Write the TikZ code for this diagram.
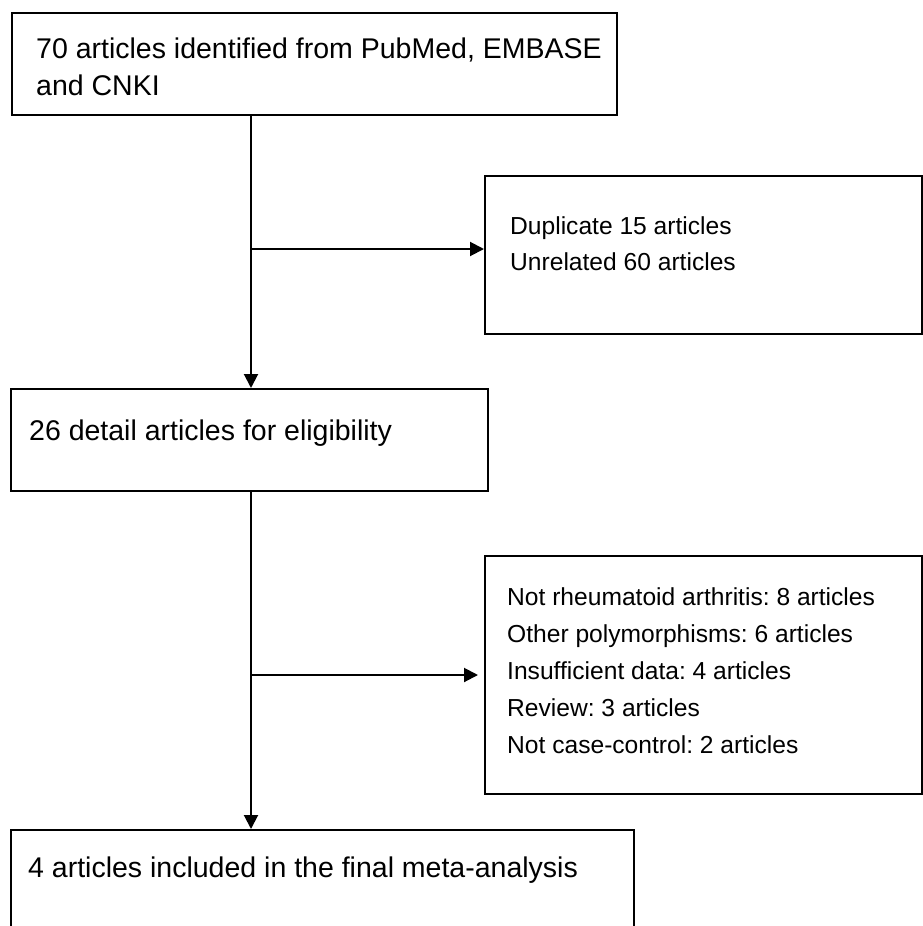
\documentclass[tikz,border=0pt]{standalone}
\usepackage{fontspec}
\setmainfont{Liberation Sans}
\usetikzlibrary{arrows.meta}
\frenchspacing
\begin{document}
\begin{tikzpicture}[x=1pt,y=1pt,
  box/.style={draw, line width=2pt, rectangle, inner sep=0pt, anchor=north west},
  bigtxt/.style={anchor=base west, inner sep=0pt, font=\fontsize{28.5}{37}\selectfont},
  smalltxt/.style={anchor=base west, inner sep=0pt, font=\fontsize{24.6}{36}\selectfont},
  arr/.style={line width=2pt, -{Triangle[length=14pt,width=14pt]}}]
\useasboundingbox (0,0) rectangle (923,-926);
\fill[white] (0,0) rectangle (923,-926);
% boxes
\node[box, minimum width=605pt, minimum height=102pt] (b1) at (11,-12) {};
\node[box, minimum width=437pt, minimum height=158pt] (r1) at (484,-175) {};
\node[box, minimum width=477pt, minimum height=102pt] (b2) at (10,-388) {};
\node[box, minimum width=437pt, minimum height=238pt] (r2) at (484,-555) {};
\node[box, minimum width=623pt, minimum height=130pt] (b3) at (10,-829) {};
% texts
\node[bigtxt] (t1a) at (36,-58) {70 articles identified from PubMed, EMBASE};
\node[bigtxt] (t1b) at (36,-95) {and CNKI};
\node[smalltxt] (r1a) at (510,-234) {Duplicate 15 articles};
\node[smalltxt] (r1b) at (510,-270) {Unrelated 60 articles};
\node[bigtxt] (t2) at (29,-440) {26 detail articles for eligibility};
\node[smalltxt] (r2a) at (507,-605) {Not rheumatoid arthritis: 8 articles};
\node[smalltxt] (r2b) at (507,-642) {Other polymorphisms: 6 articles};
\node[smalltxt] (r2c) at (507,-679) {Insufficient data: 4 articles};
\node[smalltxt] (r2d) at (507,-716) {Review: 3 articles};
\node[smalltxt] (r2e) at (507,-753) {Not case-control: 2 articles};
\node[bigtxt] (t3) at (28,-877) {4 articles included in the final meta-analysis};
% connectors
\coordinate (c1) at (251,-249);
\coordinate (c2) at (251,-675);
\coordinate (e2) at (478,-675);
\draw[arr] (b1.south -| c1) -- (b2.north -| c1);
\draw[arr] (c1) -- (c1 -| r1.west);
\draw[arr] (b2.south -| c2) -- (b3.north -| c2);
\draw[arr] (c2) -- (e2);
\end{tikzpicture}
\end{document}
